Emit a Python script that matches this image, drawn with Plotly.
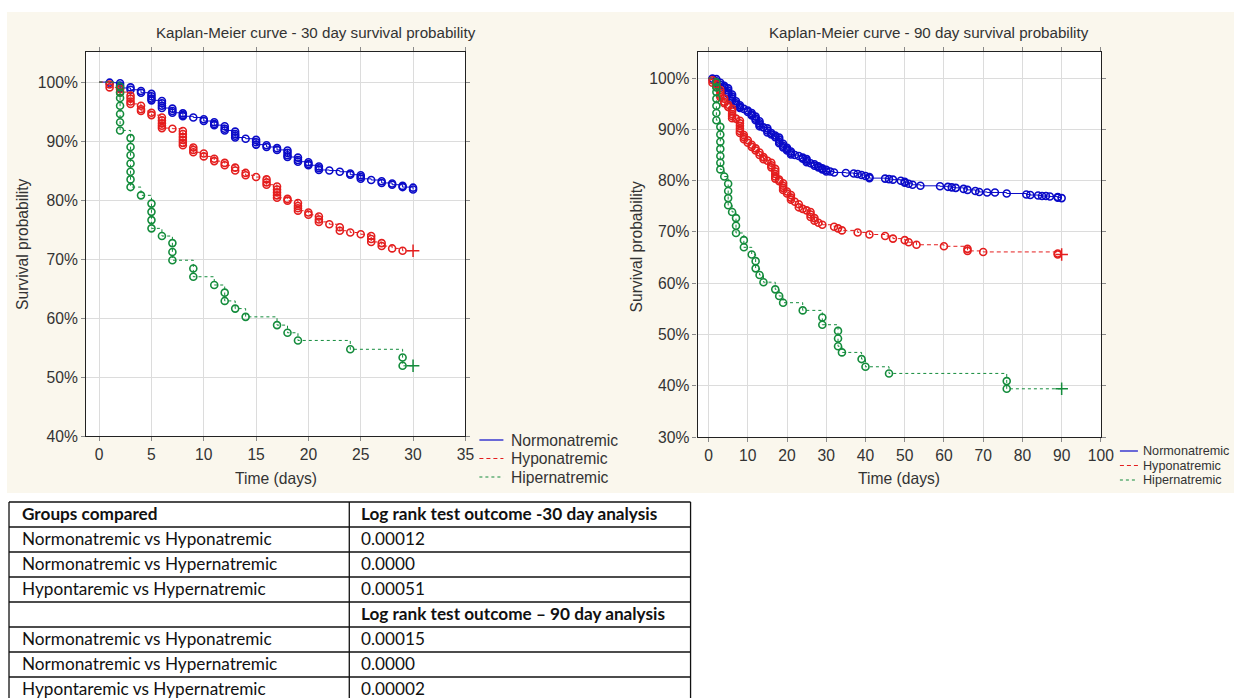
import plotly.graph_objects as go

# reference frame (pixels of the target picture)
W, H = 1234, 698
# rendered figure size (the page is shown slightly zoomed-out, so render a bit larger)
FW, FH = 1248, 706

# ---------------- DATA ----------------
# Survival levels (%) marked with circles on each event day
nor30_days = list(range(1, 31))
nor30_marks = [[99.9], [99.8, 99.4, 99.0], [99.1, 98.7], [98.5, 98.2],
               [98.0, 97.6, 97.2, 96.9], [96.8, 96.4, 96.0, 95.6], [95.5, 95.1, 94.8],
               [94.7, 94.4, 94.2], [94.0], [93.7, 93.4], [93.2, 92.9, 92.7],
               [92.5, 92.1, 91.8], [91.6, 91.2, 90.9, 90.6], [90.4], [90.2, 89.8, 89.4],
               [89.3, 89.0], [88.8, 88.5], [88.4, 88.0, 87.6, 87.3], [87.2, 86.8, 86.5],
               [86.4, 86.1, 85.9], [85.7, 85.4, 85.1], [85.0], [84.8], [84.5, 84.3],
               [84.2, 83.9, 83.6], [83.4], [83.2, 82.9], [82.8, 82.6], [82.4, 82.2],
               [82.1, 81.8]]

hyp30_days = list(range(1, 30))
hyp30_marks = [[99.6, 99.1], [98.8, 98.3], [97.7, 97.2, 96.7, 96.3], [96.0, 95.4, 95.1],
               [94.8, 94.4], [94.0, 93.5, 93.0, 92.6, 92.2], [92.1],
               [91.7, 91.2, 90.7, 90.2, 89.7, 89.3], [88.9, 88.5, 88.1], [87.9, 87.4],
               [87.0, 86.6], [86.3, 85.9], [85.5, 85.0], [84.6, 84.2], [83.9],
               [83.5, 83.0, 82.6], [82.3, 81.8, 81.3, 80.8, 80.4], [80.2, 79.9],
               [79.5, 79.0, 78.6, 78.2], [77.9, 77.5], [77.2, 76.7, 76.3], [75.9],
               [75.4, 74.8], [74.5], [74.2], [73.9, 73.4, 72.9], [72.7, 72.2], [71.8], [71.4]]

hip30_days = [2, 3, 4, 5, 6, 7, 9, 11, 12, 13, 14, 17, 18, 19, 24, 29]
hip30_marks = [[99.2, 98.2, 97.3, 96.0, 94.6, 93.2, 91.8],
               [90.5, 89.0, 87.6, 86.2, 84.8, 83.5, 82.2], [80.8],
               [79.4, 78.0, 76.6, 75.2], [73.9], [72.7, 71.2, 69.8], [68.4, 67.0],
               [65.6], [64.3, 62.9], [61.6], [60.2], [58.8], [57.5], [56.2], [54.7],
               [53.3, 51.9]]

# additional events after day 30 (90-day follow-up)
nor90_extra_days = [31, 32, 35, 37, 38, 39, 40, 41, 45, 46, 47, 49, 50, 51, 52, 54, 59,
                    61, 62, 63, 65, 66, 68, 69, 71, 73, 76, 81, 82, 84, 85, 86, 87, 89, 90]
nor90_extra_marks = [[81.8], [81.6], [81.5], [81.4], [81.3], [81.1], [80.9], [80.7, 80.5],
                     [80.4], [80.3], [80.2], [80.0], [79.8, 79.6], [79.4], [79.2], [79.0],
                     [78.9], [78.8], [78.7], [78.6], [78.4], [78.2], [78.0], [77.8],
                     [77.7], [77.7], [77.5], [77.3], [77.2], [77.1], [77.0], [77.0],
                     [76.9], [76.8, 76.7], [76.6]]

hyp90_extra_days = [32, 33, 34, 38, 41, 45, 47, 50, 51, 53, 60, 66, 70, 89]
hyp90_extra_marks = [[71.0], [70.7], [70.3], [69.9], [69.5], [69.2], [68.7], [68.4],
                     [68.0], [67.5], [67.2], [66.7, 66.3], [66.1], [65.8, 65.6]]

hip90_extra_days = [33, 34, 39, 40, 46, 76]
hip90_extra_marks = [[50.7, 49.2, 47.7], [46.5], [45.2], [43.7], [42.4], [40.9, 39.4]]

# censored end-of-follow-up marks (+)
cens30_t = {"hyp": [30], "hip": [30]}
cens30_s = {"hyp": [71.4], "hip": [51.9]}
cens90_t = {"hyp": [90], "hip": [90]}
cens90_s = {"hyp": [65.6], "hip": [39.4]}

groups = ["Normonatremic", "Hyponatremic", "Hipernatremic"]

y30_ticks = [40, 50, 60, 70, 80, 90, 100]
x30_ticks = [0, 5, 10, 15, 20, 25, 30, 35]
y90_ticks = [30, 40, 50, 60, 70, 80, 90, 100]
x90_ticks = [0, 10, 20, 30, 40, 50, 60, 70, 80, 90, 100]

table_header = ["Groups compared", "Log rank test outcome -30 day analysis"]
table_col1 = ["Normonatremic vs Hyponatremic", "Normonatremic vs Hypernatremic",
              "Hypontaremic vs Hypernatremic", "",
              "Normonatremic vs Hyponatremic", "Normonatremic vs Hypernatremic",
              "Hypontaremic vs Hypernatremic"]
table_col2 = ["0.00012", "0.0000", "0.00051", "Log rank test outcome \u2013 90 day analysis",
              "0.00015", "0.0000", "0.00002"]
table_bold_rows = [3]

# ---------------- STYLE ----------------
K = FW / W
FONT = "Liberation Sans"
TXT = "#333333"
CREAM = "rgb(250,247,237)"
COL = {"Normonatremic": "rgb(10,10,200)", "Hyponatremic": "rgb(228,30,30)",
       "Hipernatremic": "rgb(20,140,60)"}
DASH = {"Normonatremic": "solid", "Hyponatremic": "4px,3px", "Hipernatremic": "dot"}


def px(x):
    return x / W


def py(y):
    return 1 - y / H


fig = go.Figure()


def add_km(days, marks, t_end, name, xa, ya, ct=None, cs=None):
    levels = [m[-1] for m in marks]
    xs = [0] + list(days) + [t_end]
    ys = [100] + levels + [levels[-1]]
    fig.add_trace(go.Scatter(x=xs, y=ys, mode="lines", line_shape="hv",
                             line=dict(color=COL[name], width=1, dash=DASH[name]),
                             xaxis=xa, yaxis=ya, showlegend=False, hoverinfo="skip"))
    cx = [d for d, m in zip(days, marks) for _ in m]
    cy = [v for m in marks for v in m]
    fig.add_trace(go.Scatter(x=cx, y=cy, mode="markers",
                             marker=dict(symbol="circle-open", size=7, color=COL[name],
                                         line=dict(width=1.6, color=COL[name])),
                             xaxis=xa, yaxis=ya, showlegend=False, name=name))
    if ct:
        fig.add_trace(go.Scatter(x=ct, y=cs, mode="markers",
                                 marker=dict(symbol="cross-thin-open", size=9, color=COL[name],
                                             line=dict(width=1.5, color=COL[name])),
                                 xaxis=xa, yaxis=ya, showlegend=False))


# 30-day chart
add_km(nor30_days, nor30_marks, 30, "Normonatremic", "x", "y")
add_km(hyp30_days, hyp30_marks, 30, "Hyponatremic", "x", "y", cens30_t["hyp"], cens30_s["hyp"])
add_km(hip30_days, hip30_marks, 30, "Hipernatremic", "x", "y", cens30_t["hip"], cens30_s["hip"])

# 90-day chart
add_km(nor30_days + nor90_extra_days, nor30_marks + nor90_extra_marks, 90,
       "Normonatremic", "x2", "y2")
add_km(hyp30_days + hyp90_extra_days, hyp30_marks + hyp90_extra_marks, 90,
       "Hyponatremic", "x2", "y2", cens90_t["hyp"], cens90_s["hyp"])
add_km(hip30_days + hip90_extra_days, hip30_marks + hip90_extra_marks, 90,
       "Hipernatremic", "x2", "y2", cens90_t["hip"], cens90_s["hip"])

axis_common = dict(showline=True, mirror="ticks", linecolor="#222222", linewidth=1.2,
                   ticks="outside", ticklen=4, tickcolor="#8a8a8a", showgrid=True,
                   gridcolor="#dcdcdc", gridwidth=1, zeroline=False,
                   tickfont=dict(family=FONT, size=15.5 * K, color=TXT))

fig.update_layout(
    width=FW, height=FH, autosize=False, margin=dict(l=0, r=0, t=0, b=0),
    font=dict(family=FONT),
    paper_bgcolor=CREAM, plot_bgcolor="white", showlegend=False,
    xaxis=dict(domain=[px(86), px(465)], range=[-1.25, 35], tickmode="array",
               tickvals=x30_ticks, ticktext=[str(v) for v in x30_ticks],
               anchor="y", **axis_common),
    yaxis=dict(domain=[py(436), py(52)], range=[40, 105.1], tickmode="array",
               tickvals=y30_ticks, ticktext=["%d%%" % v for v in y30_ticks],
               anchor="x", **axis_common),
    xaxis2=dict(domain=[px(697), px(1100)], range=[-2.8, 100], tickmode="array",
                tickvals=x90_ticks, ticktext=[str(v) for v in x90_ticks],
                anchor="y2", **axis_common),
    yaxis2=dict(domain=[py(437), py(52)], range=[30, 105.1], tickmode="array",
                tickvals=y90_ticks, ticktext=["%d%%" % v for v in y90_ticks],
                anchor="x2", **axis_common),
)

shapes = []
# white page margins around the cream figure area
for (x0, y0, x1, y1) in [(0, 0, W, 12), (0, 0, 7, 493), (0, 493, W, H)]:
    shapes.append(dict(type="rect", xref="paper", yref="paper", x0=px(x0), x1=px(x1),
                       y0=py(y1), y1=py(y0), fillcolor="white", line=dict(width=0),
                       layer="below"))

ann = []


def text(x, y, s, size=15.5, anchor="center", angle=0, family=FONT, color=TXT, vanchor="middle"):
    ann.append(dict(x=px(x), y=py(y), xref="paper", yref="paper", text=s, showarrow=False,
                    xanchor=anchor, yanchor=vanchor, textangle=angle,
                    font=dict(family=family, size=size * K, color=color)))


# titles and axis titles
text(316, 32, "Kaplan-Meier curve - 30 day survival probability", 15)
text(928, 32, "Kaplan-Meier curve - 90 day survival probability", 15)
text(276, 478, "Time (days)")
text(898, 478, "Time (days)")
text(23, 244, "Survival probability", angle=-90)
text(635, 247, "Survival probability", angle=-90)

# legends
for i, g in enumerate(groups):
    yl = [440, 458.5, 477][i]
    shapes.append(dict(type="line", xref="paper", yref="paper", x0=px(479), x1=px(503),
                       y0=py(yl), y1=py(yl), line=dict(color=COL[g], width=1.2, dash=DASH[g])))
    text(509, yl, g, 15.5, anchor="left")
    yr = [451, 465.5, 480][i]
    shapes.append(dict(type="line", xref="paper", yref="paper", x0=px(1119), x1=px(1137),
                       y0=py(yr), y1=py(yr), line=dict(color=COL[g], width=1.2, dash=DASH[g])))
    text(1140, yr, g, 12.5, anchor="left")

# table
TFONT = "Lato"
tx0, tx1, tx2 = 9, 349, 690
ty0, rh = 502, 25
rows = [table_header] + [[a, b] for a, b in zip(table_col1, table_col2)]
nrow = len(rows)
for r in range(nrow + 1):
    yy = ty0 + r * rh
    shapes.append(dict(type="line", xref="paper", yref="paper", x0=px(tx0), x1=px(tx2),
                       y0=py(yy), y1=py(yy), line=dict(color="#111111", width=1.3)))
for xx in (tx0, tx1, tx2):
    shapes.append(dict(type="line", xref="paper", yref="paper", x0=px(xx), x1=px(xx),
                       y0=py(ty0), y1=py(ty0 + nrow * rh), line=dict(color="#111111", width=1.3)))
for r, (a, b) in enumerate(rows):
    yc = ty0 + r * rh + rh / 2 - 1.5
    bold = (r == 0) or (r - 1 in table_bold_rows)
    wa = "<b>%s</b>" % a if (r == 0 and a) else a
    wb = "<b>%s</b>" % b if bold and b else b
    if wa:
        text(20, yc, wa, 17, anchor="left", family=TFONT, color="#111111")
    if wb:
        text(359, yc, wb, 17, anchor="left", family=TFONT, color="#111111")

fig.update_layout(shapes=shapes, annotations=ann)
fig.write_html("out.html", config={"responsive": False},
               post_script="document.documentElement.style.overflow='hidden';"
                           "document.body.style.overflow='hidden';"
                           "document.body.style.margin='0';")
